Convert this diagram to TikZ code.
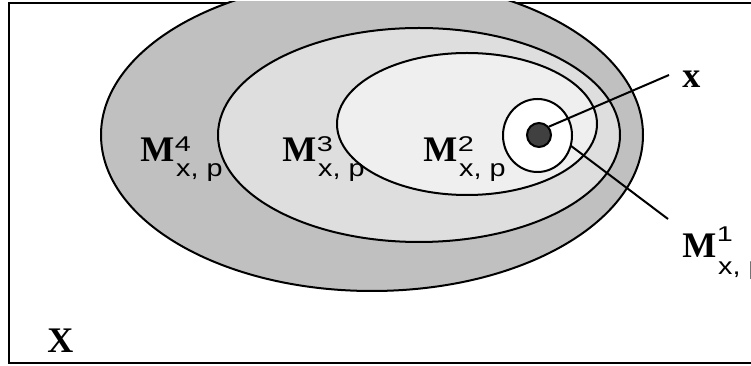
\documentclass[tikz,border=0pt]{standalone}
\usepackage{fontspec}
\setmainfont{Liberation Serif}
\setsansfont{Liberation Sans}
\usetikzlibrary{shapes.geometric}

% set label pieces
\newcommand{\bigserif}{\fontsize{27}{27}\selectfont\bfseries}
\newcommand{\suptext}[1]{\scalebox{1.35}[1]{\sffamily\fontsize{16}{16}\selectfont #1}}
\newcommand{\subtext}[1]{\scalebox{1.2}[1]{\sffamily\fontsize{18}{18}\selectfont #1}}
% M with a superscript digit and the x, p subscript
\newcommand{\mlab}[3]{{\bigserif M}\rlap{\kern0.5pt\raisebox{#2}{\suptext{#1}}}\kern1.5pt\raisebox{-#3}{\subtext{x, p}}}

\definecolor{ringfour}{HTML}{C0C0C0}
\definecolor{ringthree}{HTML}{DEDEDE}
\definecolor{ringtwo}{HTML}{EFEFEF}
\definecolor{pointfill}{HTML}{404040}

\tikzset{
  region/.style={draw=black, line width=1.5pt, ellipse, inner sep=0pt, outer sep=0pt},
  lead/.style={draw=black, line width=1.5pt},
  mtag/.style={anchor=base west, inner sep=0pt},
  bigtag/.style={anchor=base west, inner sep=0pt, font=\bigserif},
}

\begin{document}
\begin{tikzpicture}[x=0.75pt, y=-0.75pt]
  \useasboundingbox (0,0) rectangle (751,366);
  \clip (0,0) rectangle (751,366);

  % the space X
  \draw[line width=1.5pt] (9,3) rectangle (780,363);

  % nested neighbourhoods
  \begin{scope}
    \clip (0,2) rectangle (751,366);
    \node[region, fill=ringfour, minimum width=406.5pt, minimum height=234pt] (m4) at (372,135) {};
  \end{scope}
  \node[region, fill=ringthree, minimum width=301.5pt, minimum height=160.5pt] (m3) at (419,135) {};
  \node[region, fill=ringtwo, minimum width=195pt, minimum height=106.5pt] (m2) at (467,124) {};
  \node[region, fill=white, minimum width=51.75pt, minimum height=54.75pt] (m1) at (537.5,135.5) {};
  \node[circle, draw=black, line width=1.5pt, fill=pointfill, minimum size=18pt, inner sep=0pt] (pt) at (539,135) {};

  % labels
  \node[mtag] (l4) at (140,162) {\mlab{4}{7.5pt}{11.25pt}};
  \node[mtag] (l3) at (282,162) {\mlab{3}{7.5pt}{11.25pt}};
  \node[mtag] (l2) at (423,162) {\mlab{2}{7.5pt}{11.25pt}};
  \node[mtag] (l1) at (682,258) {\mlab{1}{12pt}{12.75pt}};
  \node[bigtag] (xl) at (682,88) {x};
  \node[bigtag] (bigX) at (47,353) {X};

  % leader lines
  \coordinate (xend) at (669,75);
  \coordinate (mend) at (668,219);
  \draw[lead] (pt.40) -- (xend);
  \draw[lead] (m1.-17) -- (mend);
\end{tikzpicture}
\end{document}
